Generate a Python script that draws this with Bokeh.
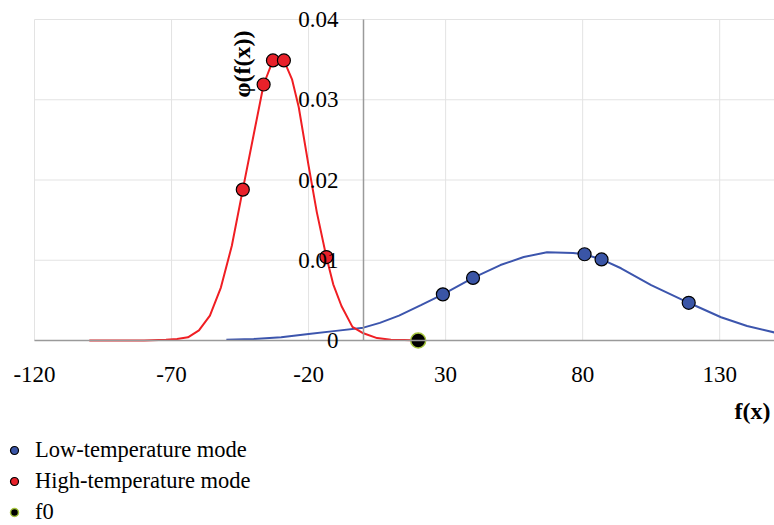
import math
from bokeh.plotting import figure
from bokeh.models import Range1d, Legend, LegendItem, FixedTicker, Label
from bokeh.embed import file_html
from bokeh.resources import INLINE

# ---- data ----
x_ticks = [-120, -70, -20, 30, 80, 130]
x_tick_labels = ["-120", "-70", "-20", "30", "80", "130"]
y_ticks = [0, 0.01, 0.02, 0.03, 0.04]
y_tick_labels = ["0", "0.01", "0.02", "0.03", "0.04"]
x_max = 150

high_x = [-100, -90, -80, -72, -68, -64, -60, -56, -52, -48, -44, -40, -36.4, -33, -29,
          -26, -23.6, -20, -17, -13.5, -11, -8, -4, 0, 5, 10, 15, 20]
high_y = [0, 0, 0, 0.0001, 0.0002, 0.0004, 0.00125, 0.0031, 0.0066, 0.0118, 0.0188, 0.0257,
          0.0319, 0.0349, 0.0349, 0.0325, 0.0291, 0.0218, 0.0160, 0.0104, 0.0070, 0.0043,
          0.0017, 0.0009, 0.0003, 0.0001, 0.00005, 0]

low_x = [-50, -40, -30, -20, -10, 0, 6, 13, 21, 29, 40, 50, 58.5, 67, 76.5, 80.7, 86.9,
         94, 105, 118.7, 130.5, 140, 150]
low_y = [0.0001, 0.0002, 0.0004, 0.0008, 0.0012, 0.0016, 0.0022, 0.0031, 0.0044, 0.00575,
         0.0078, 0.0094, 0.0104, 0.0110, 0.0109, 0.01075, 0.0101, 0.0090, 0.0069, 0.0047,
         0.0029, 0.0018, 0.0010]

low_pts_x = [29, 40, 80.7, 86.9, 118.7]
low_pts_y = [0.00575, 0.0078, 0.01075, 0.0101, 0.0047]
high_pts_x = [-44, -36.4, -33, -29, -13.5]
high_pts_y = [0.0188, 0.0319, 0.0349, 0.0349, 0.0104]
f0_x = [20]
f0_y = [0]

series_names = ["Low-temperature mode", "High-temperature mode", "f0"]
x_title = "f(x)"
y_title = "φ(f(x))"

FONT = "Liberation Serif"
W, H = 774, 525
# frame covers the whole canvas; plot area occupies px 34..774 x 19..340
PX_L, PX_T, PX_B = 34, 19, 340
x_scale = (W - PX_L) / (x_max - x_ticks[0])
y_scale = (PX_B - PX_T) / (y_ticks[-1] - y_ticks[0])
x_start = x_ticks[0] - PX_L / x_scale
y_end = y_ticks[-1] + PX_T / y_scale
y_start = y_ticks[0] - (H - PX_B) / y_scale

p = figure(width=W, height=H, output_backend="svg", toolbar_location=None,
           x_range=Range1d(x_start, x_max), y_range=Range1d(y_start, y_end),
           min_border_left=0, min_border_right=0, min_border_top=0, min_border_bottom=0)
p.outline_line_color = None
p.background_fill_color = "white"
p.xgrid.visible = False
p.ygrid.visible = False

GRID = "#e3e3e3"
p.segment(x0=x_ticks, y0=[y_ticks[0]] * len(x_ticks), x1=x_ticks, y1=[y_ticks[-1]] * len(x_ticks),
          line_color=GRID, line_width=1)
p.segment(x0=[x_ticks[0]] * len(y_ticks), y0=y_ticks, x1=[x_max] * len(y_ticks), y1=y_ticks,
          line_color=GRID, line_width=1)

AXIS = "#9a9a9a"
TICK_FS = "23px"

# x axis at y=0
xa = p.xaxis[0]
xa.fixed_location = 0
xa.bounds = (x_ticks[0], x_max)
xa.ticker = FixedTicker(ticks=x_ticks)
xa.major_label_overrides = dict(zip(x_ticks, x_tick_labels))
xa.axis_line_color = AXIS
xa.axis_line_width = 1.5
xa.major_tick_line_color = None
xa.minor_tick_line_color = None
xa.major_label_text_font = FONT
xa.major_label_text_font_size = TICK_FS
xa.major_label_text_color = "black"
xa.major_label_standoff = 20

# y axis at x=0
ya = p.yaxis[0]
ya.fixed_location = 0
ya.bounds = (y_ticks[0], y_ticks[-1])
ya.ticker = FixedTicker(ticks=y_ticks)
ya.major_label_overrides = dict(zip(y_ticks, y_tick_labels))
ya.axis_line_color = AXIS
ya.axis_line_width = 1.5
ya.major_tick_line_color = None
ya.minor_tick_line_color = None
ya.major_label_text_font = FONT
ya.major_label_text_font_size = TICK_FS
ya.major_label_text_color = "black"
ya.major_label_standoff = 19

# axis titles
p.add_layout(Label(x=770, y=H - 410, x_units="screen", y_units="screen", text=x_title,
                   text_align="right", text_baseline="middle", text_font=FONT,
                   text_font_size="24px", text_font_style="bold", text_color="black"))
p.add_layout(Label(x=241, y=H - 30, x_units="screen", y_units="screen", text=y_title,
                   angle=math.pi / 2, text_align="right", text_baseline="middle", text_font=FONT,
                   text_font_size="24px", text_font_style="bold", text_color="black"))

# curves
p.line(low_x, low_y, line_color="#3c55ad", line_width=2)
p.line(high_x, high_y, line_color="#f01e23", line_width=2)

r_low = p.scatter(low_pts_x, low_pts_y, size=13, fill_color="#3a55a6", line_color="black", line_width=1.2)
r_high = p.scatter(high_pts_x, high_pts_y, size=13, fill_color="#e8212a", line_color="black", line_width=1.2)
r_f0 = p.scatter(f0_x, f0_y, size=15, fill_color="black", line_color="#a4c43c", line_width=1.5)

legend = Legend(items=[LegendItem(label=series_names[0], renderers=[r_low]),
                       LegendItem(label=series_names[1], renderers=[r_high]),
                       LegendItem(label=series_names[2], renderers=[r_f0])],
                location=(4, 0), orientation="vertical",
                padding=0, margin=0, spacing=5, glyph_width=20, glyph_height=20,
                label_height=20, label_standoff=11,
                label_text_font=FONT, label_text_font_size="22.5px", label_text_color="black",
                background_fill_alpha=0, border_line_color=None)
p.add_layout(legend, "center")

open("out.html", "w").write(file_html(p, INLINE))
